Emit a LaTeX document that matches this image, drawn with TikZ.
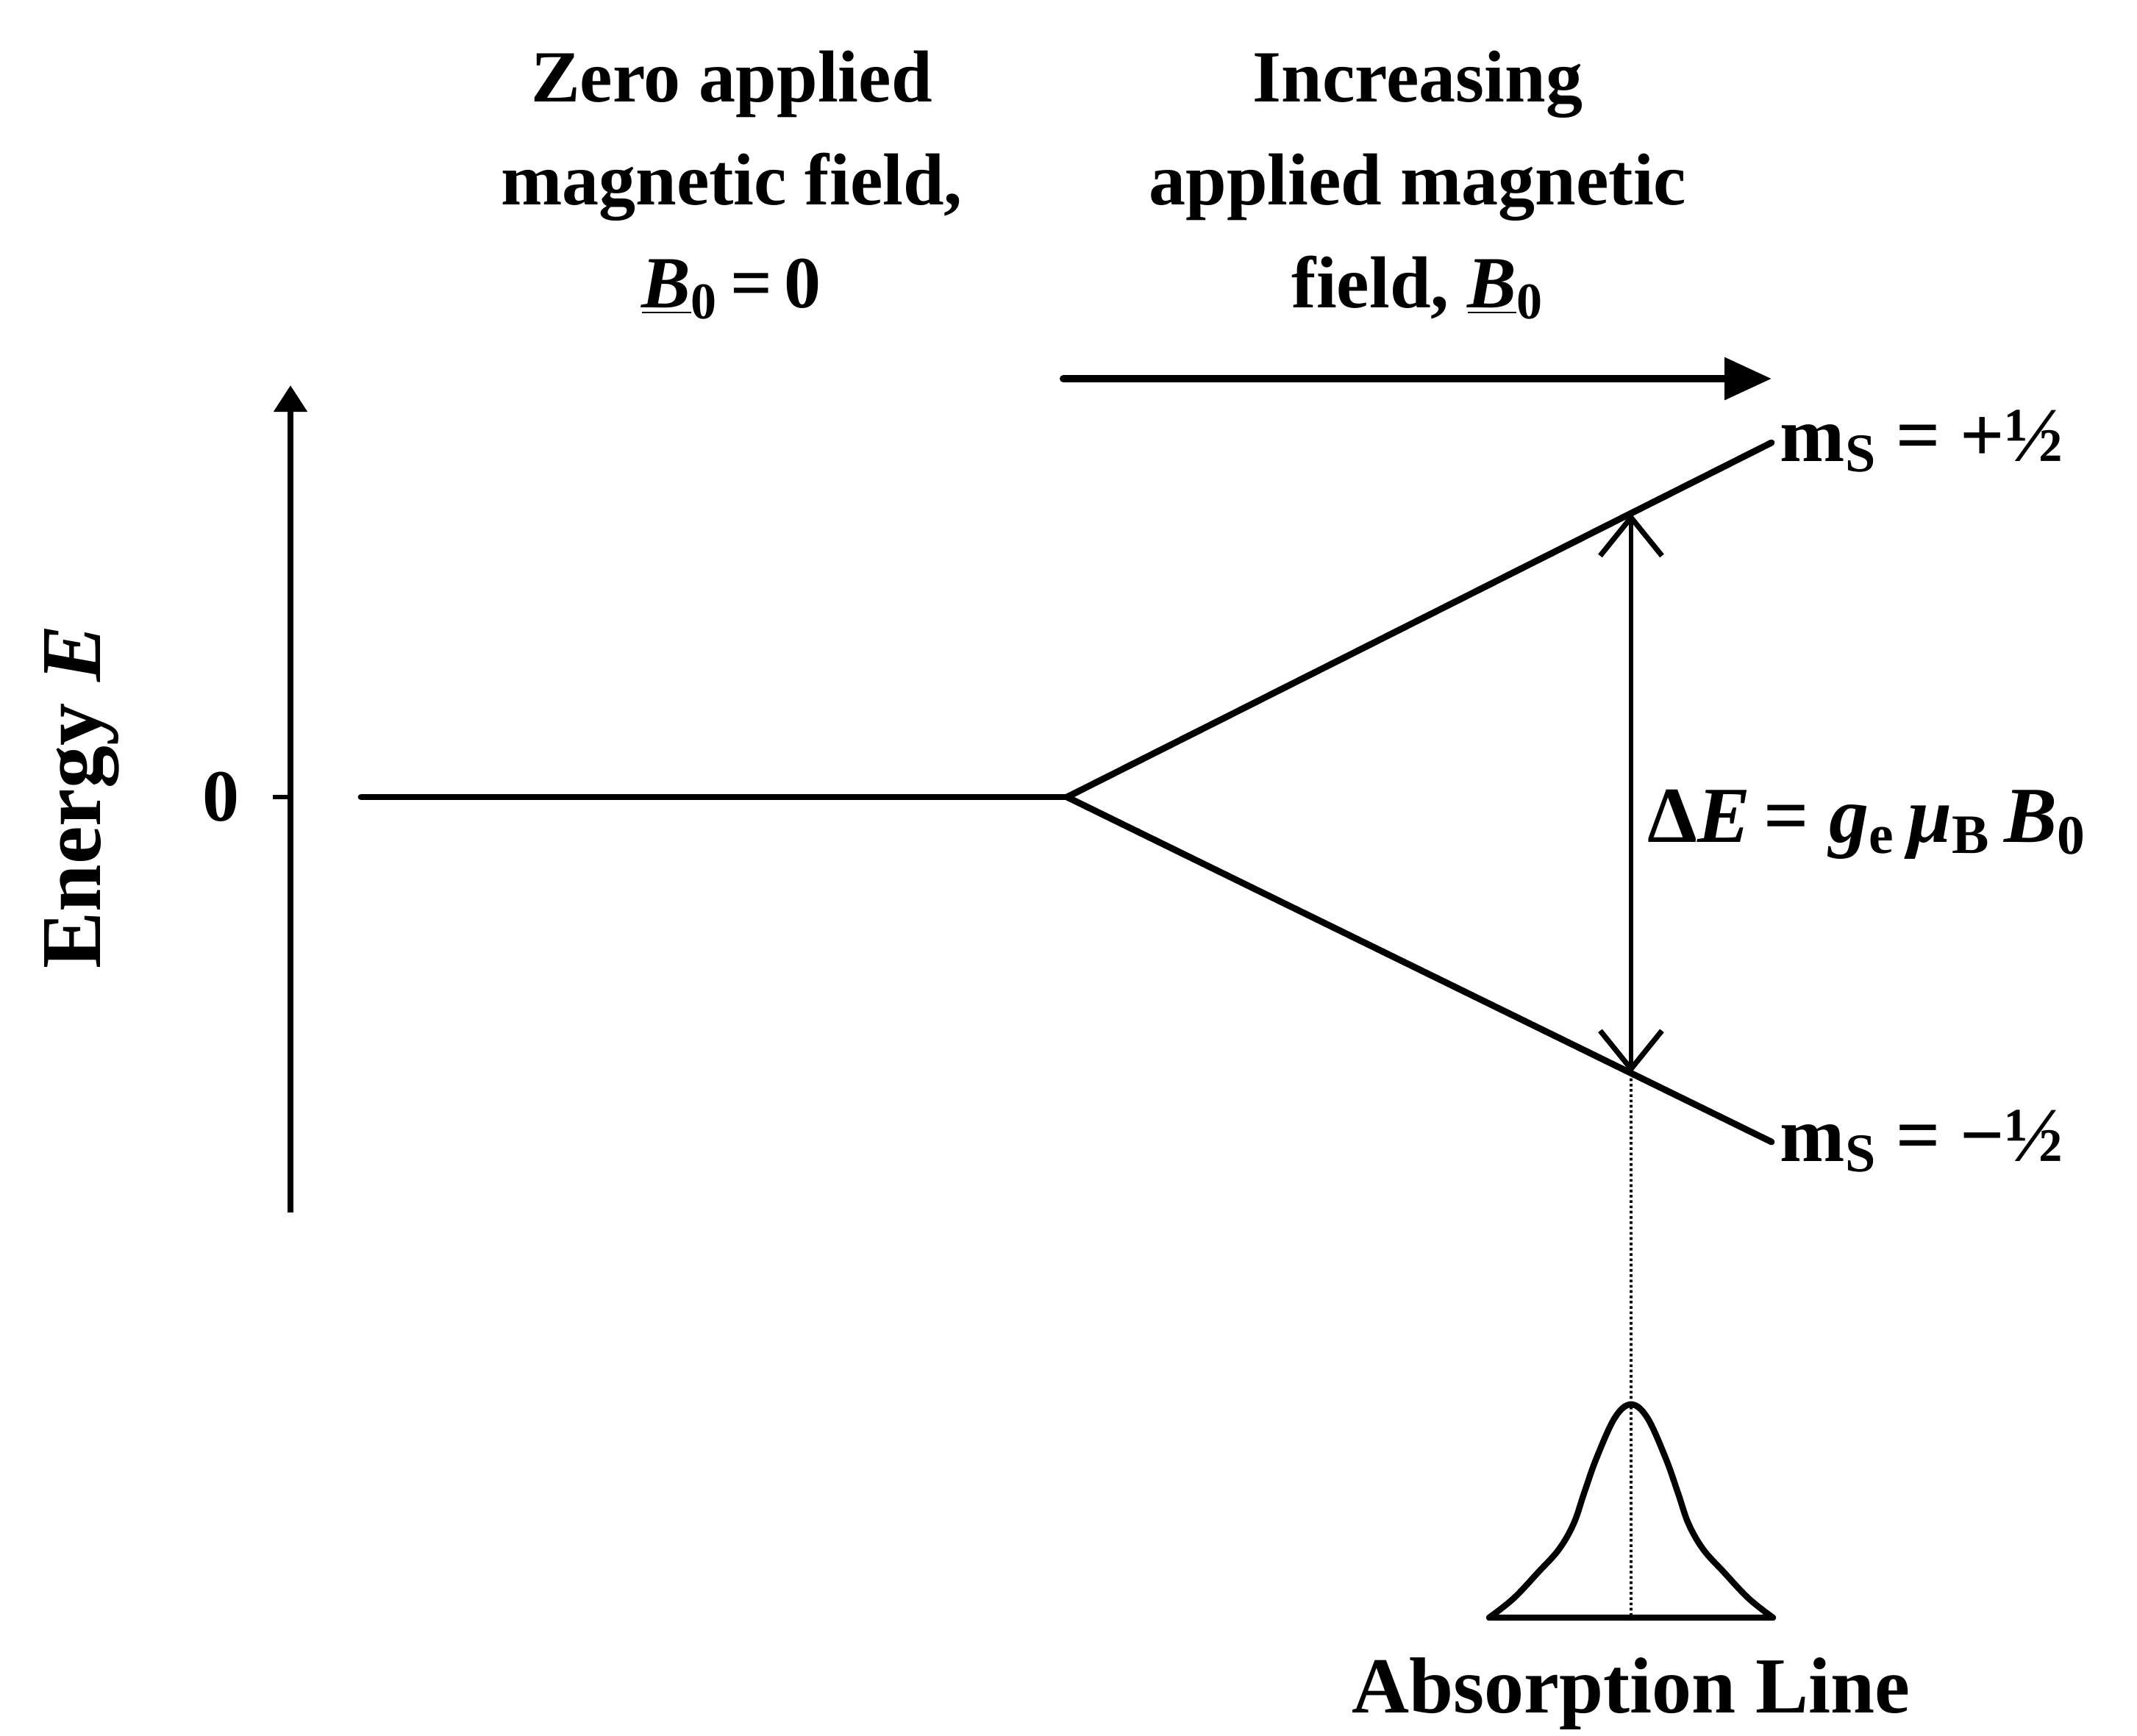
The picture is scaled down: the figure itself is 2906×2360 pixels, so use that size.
\documentclass[tikz,border=0pt]{standalone}
\usepackage{fontspec}
\setmainfont{Liberation Serif}
\usetikzlibrary{arrows.meta,calc}
\begin{document}
\begin{tikzpicture}[x=0.25pt,y=-0.25pt,
  txt/.style={font=\fontsize{25}{35}\selectfont\bfseries, align=center, inner sep=0pt},
  lbltxt/.style={font=\fontsize{26.5}{35}\selectfont\bfseries, inner sep=0pt},
  lvl/.style={line width=2.2pt, line cap=round},
  axisline/.style={line width=2pt, -{Triangle[length=9pt,width=11pt]}},
  fieldarrow/.style={line width=2.5pt, line cap=round, -{Triangle[length=16pt,width=14pt]}},
  gap/.style={line width=1.7pt, {Straight Barb[length=13pt,width=21pt,line width=1.8pt]}-{Straight Barb[length=13pt,width=21pt,line width=1.8pt]}},
  dotline/.style={line width=0.9pt, dash pattern=on 0.9pt off 0.9pt},
  peak/.style={line width=2.1pt, line join=round}]
\useasboundingbox (0,0) rectangle (2906,2360);

% headings
\node[txt] (zerohd) at (995,252) {Zero applied\\magnetic field,\\\underline{\textit{B}}\textsubscript{0}\,=\,0};
\node[txt] (inchd) at (1928,252) {Increasing\\applied magnetic\\field, \underline{\textit{B}}\textsubscript{0}};

% field arrow
\coordinate (fa) at (1446,515);
\coordinate (fb) at (2409,515);
\draw[fieldarrow] (fa) -- (fb);

% energy axis
\coordinate (axbot) at (395,1649);
\coordinate (axtop) at (395,524);
\draw[axisline] (axbot) -- (axtop);
\coordinate (tick) at (371,1084);
\coordinate (tick0) at (395,1084);
\draw[line width=1.6pt] (tick) -- (tick0);
\node[lbltxt, font=\fontsize{25}{35}\selectfont\bfseries, anchor=east] (zero) at (326,1084) {0};
\node[lbltxt, font=\fontsize{29}{35}\selectfont\bfseries, rotate=90] (energy) at (111,1084) {Energy \textit{E}};

% levels
\coordinate (lvl0) at (491,1084);
\coordinate (split) at (1451,1084);
\coordinate (up) at (2409,602);
\coordinate (dn) at (2409,1553);
\draw[lvl] (lvl0) -- (split);
\draw[lvl, line join=miter] (up) -- (split) -- (dn);

\node[lbltxt, anchor=base west] (mp) at (2420,627) {m\textsubscript{S} = +½};
\node[lbltxt, anchor=base west] (mm) at (2420,1579) {m\textsubscript{S} = −½};

% energy gap
\coordinate (ua) at ($(split)!0.8006!(up)$);
\coordinate (da) at ($(split)!0.8006!(dn)$);
\draw[gap] (da) -- (ua);
\node[lbltxt, font=\fontsize{27}{35}\selectfont\bfseries, anchor=west] (de) at (2240,1121) {Δ\textit{E}\,= \textit{g}\textsubscript{e}\,\textit{μ}\textsubscript{B}\,\textit{B}\textsubscript{0}};

% absorption line
\coordinate (base) at (2218,2200);
\draw[dotline] (da) -- (base);
\draw[peak] plot[smooth, tension=0.6] coordinates {(2025,2200) (2058,2174) (2092,2138) (2120,2107) (2140,2072) (2154,2031) (2171,1983) (2196,1928) (2218,1910) (2240,1928) (2265,1983) (2282,2031) (2296,2072) (2316,2107) (2344,2138) (2378,2174) (2411,2200)} -- cycle;
\node[lbltxt, font=\fontsize{27}{35}\selectfont\bfseries] (abs) at (2218,2303) {Absorption Line};
\end{tikzpicture}
\end{document}
